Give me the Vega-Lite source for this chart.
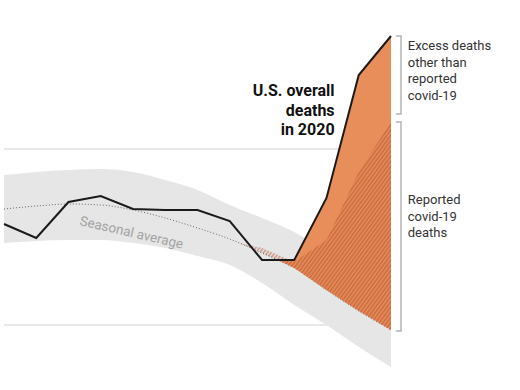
{
  "$schema": "https://vega.github.io/schema/vega-lite/v6.json",
  "width": 520,
  "height": 390,
  "autosize": {"type": "fit", "contains": "padding"},
  "padding": 0,
  "background": "white",
  "config": {"view": {"stroke": null}},
  "datasets": {
    "weeks": [
      {"w": 0, "deaths": 166, "avg": 181, "hi": 215, "lo": 147},
      {"w": 1, "deaths": 152, "avg": 184, "hi": 218, "lo": 149},
      {"w": 2, "deaths": 188, "avg": 186, "hi": 220, "lo": 150},
      {"w": 3, "deaths": 194, "avg": 185, "hi": 221, "lo": 150},
      {"w": 4, "deaths": 181, "avg": 180, "hi": 218, "lo": 147},
      {"w": 5, "deaths": 180, "avg": 172, "hi": 210, "lo": 142},
      {"w": 6, "deaths": 180, "avg": 162, "hi": 200, "lo": 134},
      {"w": 7, "deaths": 169, "avg": 151, "hi": 185, "lo": 125},
      {"w": 8, "deaths": 130, "avg": 137, "hi": 172, "lo": 107},
      {"w": 9, "deaths": 130, "avg": 122, "hi": 158, "lo": 85},
      {"w": 10, "deaths": 192, "avg": 100, "hi": 138, "lo": 65},
      {"w": 11, "deaths": 315, "avg": 79, "hi": 118, "lo": 43},
      {"w": 12, "deaths": 354, "avg": 60, "hi": 98, "lo": 23}
    ],
    "excess": [
      {"w": 8.5, "top": 130, "bottom": 130},
      {"w": 9, "top": 130, "bottom": 122},
      {"w": 10, "top": 192, "bottom": 100},
      {"w": 11, "top": 315, "bottom": 79},
      {"w": 12, "top": 354, "bottom": 60}
    ],
    "covid": [
      {"w": 7.3, "avg": 147, "top": 147},
      {"w": 8, "avg": 137, "top": 142},
      {"w": 9, "avg": 122, "top": 128},
      {"w": 10, "avg": 100, "top": 150},
      {"w": 11, "avg": 79, "top": 218},
      {"w": 12, "avg": 60, "top": 268}
    ],
    "grid": [{"v": 241}, {"v": 65}],
    "brackets": [
      {"part": "excess", "top": 354, "bottom": 276},
      {"part": "covid", "top": 268, "bottom": 59}
    ]
  },
  "layer": [
    {
      "data": {"name": "grid"},
      "mark": {"type": "rule", "color": "#d2d2d2", "strokeWidth": 1},
      "encoding": {
        "x": {"datum": 0, "type": "quantitative", "scale": {"domain": [0, 16]}, "axis": null},
        "x2": {"datum": 12},
        "y": {"field": "v", "type": "quantitative", "scale": {"domain": [0, 390]}, "axis": null}
      }
    },
    {
      "data": {"name": "weeks"},
      "mark": {"type": "area", "color": "#e6e6e6", "interpolate": "monotone"},
      "encoding": {
        "x": {"field": "w", "type": "quantitative", "scale": {"domain": [0, 16]}, "axis": null},
        "y": {"field": "hi", "type": "quantitative", "scale": {"domain": [0, 390]}, "axis": null},
        "y2": {"field": "lo"}
      }
    },
    {
      "data": {"name": "weeks"},
      "mark": {"type": "line", "color": "#666666", "strokeWidth": 1, "strokeDash": [1, 2], "interpolate": "monotone"},
      "encoding": {
        "x": {"field": "w", "type": "quantitative", "scale": {"domain": [0, 16]}, "axis": null},
        "y": {"field": "avg", "type": "quantitative", "scale": {"domain": [0, 390]}, "axis": null}
      }
    },
    {
      "data": {"name": "excess"},
      "mark": {"type": "area", "color": "#e88e5b"},
      "encoding": {
        "x": {"field": "w", "type": "quantitative", "scale": {"domain": [0, 16]}, "axis": null},
        "y": {"field": "top", "type": "quantitative", "scale": {"domain": [0, 390]}, "axis": null},
        "y2": {"field": "bottom"}
      }
    },
    {
      "data": {"name": "covid"},
      "mark": {
        "type": "area",
        "fill": {
          "gradient": "linear", "x1": 0, "y1": 0, "x2": 1, "y2": 1,
          "stops": [
            {"offset": 0, "color": "rgba(170,70,35,0)"},
            {"offset": 0.00625, "color": "rgba(170,70,35,0.5)"},
            {"offset": 0.0125, "color": "rgba(170,70,35,0)"},
            {"offset": 0.01875, "color": "rgba(170,70,35,0.5)"},
            {"offset": 0.025, "color": "rgba(170,70,35,0)"},
            {"offset": 0.03125, "color": "rgba(170,70,35,0.5)"},
            {"offset": 0.0375, "color": "rgba(170,70,35,0)"},
            {"offset": 0.04375, "color": "rgba(170,70,35,0.5)"},
            {"offset": 0.05, "color": "rgba(170,70,35,0)"},
            {"offset": 0.05625, "color": "rgba(170,70,35,0.5)"},
            {"offset": 0.0625, "color": "rgba(170,70,35,0)"},
            {"offset": 0.06875, "color": "rgba(170,70,35,0.5)"},
            {"offset": 0.075, "color": "rgba(170,70,35,0)"},
            {"offset": 0.08125, "color": "rgba(170,70,35,0.5)"},
            {"offset": 0.0875, "color": "rgba(170,70,35,0)"},
            {"offset": 0.09375, "color": "rgba(170,70,35,0.5)"},
            {"offset": 0.1, "color": "rgba(170,70,35,0)"},
            {"offset": 0.10625, "color": "rgba(170,70,35,0.5)"},
            {"offset": 0.1125, "color": "rgba(170,70,35,0)"},
            {"offset": 0.11875, "color": "rgba(170,70,35,0.5)"},
            {"offset": 0.125, "color": "rgba(170,70,35,0)"},
            {"offset": 0.13125, "color": "rgba(170,70,35,0.5)"},
            {"offset": 0.1375, "color": "rgba(170,70,35,0)"},
            {"offset": 0.14375, "color": "rgba(170,70,35,0.5)"},
            {"offset": 0.15, "color": "rgba(170,70,35,0)"},
            {"offset": 0.15625, "color": "rgba(170,70,35,0.5)"},
            {"offset": 0.1625, "color": "rgba(170,70,35,0)"},
            {"offset": 0.16875, "color": "rgba(170,70,35,0.5)"},
            {"offset": 0.175, "color": "rgba(170,70,35,0)"},
            {"offset": 0.18125, "color": "rgba(170,70,35,0.5)"},
            {"offset": 0.1875, "color": "rgba(170,70,35,0)"},
            {"offset": 0.19375, "color": "rgba(170,70,35,0.5)"},
            {"offset": 0.2, "color": "rgba(170,70,35,0)"},
            {"offset": 0.20625, "color": "rgba(170,70,35,0.5)"},
            {"offset": 0.2125, "color": "rgba(170,70,35,0)"},
            {"offset": 0.21875, "color": "rgba(170,70,35,0.5)"},
            {"offset": 0.225, "color": "rgba(170,70,35,0)"},
            {"offset": 0.23125, "color": "rgba(170,70,35,0.5)"},
            {"offset": 0.2375, "color": "rgba(170,70,35,0)"},
            {"offset": 0.24375, "color": "rgba(170,70,35,0.5)"},
            {"offset": 0.25, "color": "rgba(170,70,35,0)"},
            {"offset": 0.25625, "color": "rgba(170,70,35,0.5)"},
            {"offset": 0.2625, "color": "rgba(170,70,35,0)"},
            {"offset": 0.26875, "color": "rgba(170,70,35,0.5)"},
            {"offset": 0.275, "color": "rgba(170,70,35,0)"},
            {"offset": 0.28125, "color": "rgba(170,70,35,0.5)"},
            {"offset": 0.2875, "color": "rgba(170,70,35,0)"},
            {"offset": 0.29375, "color": "rgba(170,70,35,0.5)"},
            {"offset": 0.3, "color": "rgba(170,70,35,0)"},
            {"offset": 0.30625, "color": "rgba(170,70,35,0.5)"},
            {"offset": 0.3125, "color": "rgba(170,70,35,0)"},
            {"offset": 0.31875, "color": "rgba(170,70,35,0.5)"},
            {"offset": 0.325, "color": "rgba(170,70,35,0)"},
            {"offset": 0.33125, "color": "rgba(170,70,35,0.5)"},
            {"offset": 0.3375, "color": "rgba(170,70,35,0)"},
            {"offset": 0.34375, "color": "rgba(170,70,35,0.5)"},
            {"offset": 0.35, "color": "rgba(170,70,35,0)"},
            {"offset": 0.35625, "color": "rgba(170,70,35,0.5)"},
            {"offset": 0.3625, "color": "rgba(170,70,35,0)"},
            {"offset": 0.36875, "color": "rgba(170,70,35,0.5)"},
            {"offset": 0.375, "color": "rgba(170,70,35,0)"},
            {"offset": 0.38125, "color": "rgba(170,70,35,0.5)"},
            {"offset": 0.3875, "color": "rgba(170,70,35,0)"},
            {"offset": 0.39375, "color": "rgba(170,70,35,0.5)"},
            {"offset": 0.4, "color": "rgba(170,70,35,0)"},
            {"offset": 0.40625, "color": "rgba(170,70,35,0.5)"},
            {"offset": 0.4125, "color": "rgba(170,70,35,0)"},
            {"offset": 0.41875, "color": "rgba(170,70,35,0.5)"},
            {"offset": 0.425, "color": "rgba(170,70,35,0)"},
            {"offset": 0.43125, "color": "rgba(170,70,35,0.5)"},
            {"offset": 0.4375, "color": "rgba(170,70,35,0)"},
            {"offset": 0.44375, "color": "rgba(170,70,35,0.5)"},
            {"offset": 0.45, "color": "rgba(170,70,35,0)"},
            {"offset": 0.45625, "color": "rgba(170,70,35,0.5)"},
            {"offset": 0.4625, "color": "rgba(170,70,35,0)"},
            {"offset": 0.46875, "color": "rgba(170,70,35,0.5)"},
            {"offset": 0.475, "color": "rgba(170,70,35,0)"},
            {"offset": 0.48125, "color": "rgba(170,70,35,0.5)"},
            {"offset": 0.4875, "color": "rgba(170,70,35,0)"},
            {"offset": 0.49375, "color": "rgba(170,70,35,0.5)"},
            {"offset": 0.5, "color": "rgba(170,70,35,0)"},
            {"offset": 0.50625, "color": "rgba(170,70,35,0.5)"},
            {"offset": 0.5125, "color": "rgba(170,70,35,0)"},
            {"offset": 0.51875, "color": "rgba(170,70,35,0.5)"},
            {"offset": 0.525, "color": "rgba(170,70,35,0)"},
            {"offset": 0.53125, "color": "rgba(170,70,35,0.5)"},
            {"offset": 0.5375, "color": "rgba(170,70,35,0)"},
            {"offset": 0.54375, "color": "rgba(170,70,35,0.5)"},
            {"offset": 0.55, "color": "rgba(170,70,35,0)"},
            {"offset": 0.55625, "color": "rgba(170,70,35,0.5)"},
            {"offset": 0.5625, "color": "rgba(170,70,35,0)"},
            {"offset": 0.56875, "color": "rgba(170,70,35,0.5)"},
            {"offset": 0.575, "color": "rgba(170,70,35,0)"},
            {"offset": 0.58125, "color": "rgba(170,70,35,0.5)"},
            {"offset": 0.5875, "color": "rgba(170,70,35,0)"},
            {"offset": 0.59375, "color": "rgba(170,70,35,0.5)"},
            {"offset": 0.6, "color": "rgba(170,70,35,0)"},
            {"offset": 0.60625, "color": "rgba(170,70,35,0.5)"},
            {"offset": 0.6125, "color": "rgba(170,70,35,0)"},
            {"offset": 0.61875, "color": "rgba(170,70,35,0.5)"},
            {"offset": 0.625, "color": "rgba(170,70,35,0)"},
            {"offset": 0.63125, "color": "rgba(170,70,35,0.5)"},
            {"offset": 0.6375, "color": "rgba(170,70,35,0)"},
            {"offset": 0.64375, "color": "rgba(170,70,35,0.5)"},
            {"offset": 0.65, "color": "rgba(170,70,35,0)"},
            {"offset": 0.65625, "color": "rgba(170,70,35,0.5)"},
            {"offset": 0.6625, "color": "rgba(170,70,35,0)"},
            {"offset": 0.66875, "color": "rgba(170,70,35,0.5)"},
            {"offset": 0.675, "color": "rgba(170,70,35,0)"},
            {"offset": 0.68125, "color": "rgba(170,70,35,0.5)"},
            {"offset": 0.6875, "color": "rgba(170,70,35,0)"},
            {"offset": 0.69375, "color": "rgba(170,70,35,0.5)"},
            {"offset": 0.7, "color": "rgba(170,70,35,0)"},
            {"offset": 0.70625, "color": "rgba(170,70,35,0.5)"},
            {"offset": 0.7125, "color": "rgba(170,70,35,0)"},
            {"offset": 0.71875, "color": "rgba(170,70,35,0.5)"},
            {"offset": 0.725, "color": "rgba(170,70,35,0)"},
            {"offset": 0.73125, "color": "rgba(170,70,35,0.5)"},
            {"offset": 0.7375, "color": "rgba(170,70,35,0)"},
            {"offset": 0.74375, "color": "rgba(170,70,35,0.5)"},
            {"offset": 0.75, "color": "rgba(170,70,35,0)"},
            {"offset": 0.75625, "color": "rgba(170,70,35,0.5)"},
            {"offset": 0.7625, "color": "rgba(170,70,35,0)"},
            {"offset": 0.76875, "color": "rgba(170,70,35,0.5)"},
            {"offset": 0.775, "color": "rgba(170,70,35,0)"},
            {"offset": 0.78125, "color": "rgba(170,70,35,0.5)"},
            {"offset": 0.7875, "color": "rgba(170,70,35,0)"},
            {"offset": 0.79375, "color": "rgba(170,70,35,0.5)"},
            {"offset": 0.8, "color": "rgba(170,70,35,0)"},
            {"offset": 0.80625, "color": "rgba(170,70,35,0.5)"},
            {"offset": 0.8125, "color": "rgba(170,70,35,0)"},
            {"offset": 0.81875, "color": "rgba(170,70,35,0.5)"},
            {"offset": 0.825, "color": "rgba(170,70,35,0)"},
            {"offset": 0.83125, "color": "rgba(170,70,35,0.5)"},
            {"offset": 0.8375, "color": "rgba(170,70,35,0)"},
            {"offset": 0.84375, "color": "rgba(170,70,35,0.5)"},
            {"offset": 0.85, "color": "rgba(170,70,35,0)"},
            {"offset": 0.85625, "color": "rgba(170,70,35,0.5)"},
            {"offset": 0.8625, "color": "rgba(170,70,35,0)"},
            {"offset": 0.86875, "color": "rgba(170,70,35,0.5)"},
            {"offset": 0.875, "color": "rgba(170,70,35,0)"},
            {"offset": 0.88125, "color": "rgba(170,70,35,0.5)"},
            {"offset": 0.8875, "color": "rgba(170,70,35,0)"},
            {"offset": 0.89375, "color": "rgba(170,70,35,0.5)"},
            {"offset": 0.9, "color": "rgba(170,70,35,0)"},
            {"offset": 0.90625, "color": "rgba(170,70,35,0.5)"},
            {"offset": 0.9125, "color": "rgba(170,70,35,0)"},
            {"offset": 0.91875, "color": "rgba(170,70,35,0.5)"},
            {"offset": 0.925, "color": "rgba(170,70,35,0)"},
            {"offset": 0.93125, "color": "rgba(170,70,35,0.5)"},
            {"offset": 0.9375, "color": "rgba(170,70,35,0)"},
            {"offset": 0.94375, "color": "rgba(170,70,35,0.5)"},
            {"offset": 0.95, "color": "rgba(170,70,35,0)"},
            {"offset": 0.95625, "color": "rgba(170,70,35,0.5)"},
            {"offset": 0.9625, "color": "rgba(170,70,35,0)"},
            {"offset": 0.96875, "color": "rgba(170,70,35,0.5)"},
            {"offset": 0.975, "color": "rgba(170,70,35,0)"},
            {"offset": 0.98125, "color": "rgba(170,70,35,0.5)"},
            {"offset": 0.9875, "color": "rgba(170,70,35,0)"},
            {"offset": 0.99375, "color": "rgba(170,70,35,0.5)"},
            {"offset": 1, "color": "rgba(170,70,35,0)"}
          ]
        }
      },
      "encoding": {
        "x": {"field": "w", "type": "quantitative", "scale": {"domain": [0, 16]}, "axis": null},
        "y": {"field": "top", "type": "quantitative", "scale": {"domain": [0, 390]}, "axis": null},
        "y2": {"field": "avg"}
      }
    },
    {
      "data": {"name": "weeks"},
      "mark": {"type": "line", "color": "#1a1a1a", "strokeWidth": 2},
      "encoding": {
        "x": {"field": "w", "type": "quantitative", "scale": {"domain": [0, 16]}, "axis": null},
        "y": {"field": "deaths", "type": "quantitative", "scale": {"domain": [0, 390]}, "axis": null}
      }
    },
    {
      "data": {"name": "brackets"},
      "mark": {"type": "rule", "color": "#b4b4b4", "strokeWidth": 1.5},
      "encoding": {
        "x": {"datum": 12.31, "type": "quantitative", "scale": {"domain": [0, 16]}, "axis": null},
        "y": {"field": "top", "type": "quantitative", "scale": {"domain": [0, 390]}, "axis": null},
        "y2": {"field": "bottom"}
      }
    },
    {
      "data": {"name": "brackets"},
      "mark": {"type": "rule", "color": "#b4b4b4", "strokeWidth": 1.5},
      "encoding": {
        "x": {"datum": 12.15, "type": "quantitative", "scale": {"domain": [0, 16]}, "axis": null},
        "x2": {"datum": 12.33},
        "y": {"field": "top", "type": "quantitative", "scale": {"domain": [0, 390]}, "axis": null}
      }
    },
    {
      "data": {"name": "brackets"},
      "mark": {"type": "rule", "color": "#b4b4b4", "strokeWidth": 1.5},
      "encoding": {
        "x": {"datum": 12.15, "type": "quantitative", "scale": {"domain": [0, 16]}, "axis": null},
        "x2": {"datum": 12.33},
        "y": {"field": "bottom", "type": "quantitative", "scale": {"domain": [0, 390]}, "axis": null}
      }
    },
    {
      "data": {"values": [
        {"w": 12.52, "v": 350, "t": "Excess deaths\nother than\nreported\ncovid-19"},
        {"w": 12.52, "v": 196, "t": "Reported\ncovid-19\ndeaths"}
      ]},
      "mark": {"type": "text", "align": "left", "baseline": "top", "font": "Roboto", "fontSize": 13, "lineHeight": 16.5, "lineBreak": "\n", "color": "#333333"},
      "encoding": {
        "x": {"field": "w", "type": "quantitative", "scale": {"domain": [0, 16]}, "axis": null},
        "y": {"field": "v", "type": "quantitative", "scale": {"domain": [0, 390]}, "axis": null},
        "text": {"field": "t"}
      }
    },
    {
      "data": {"values": [
        {"w": 10.25, "v": 307, "t": "U.S. overall\ndeaths\nin 2020"}
      ]},
      "mark": {"type": "text", "align": "right", "baseline": "top", "font": "Roboto", "fontSize": 16, "fontWeight": "bold", "lineHeight": 19.5, "lineBreak": "\n", "color": "#111111"},
      "encoding": {
        "x": {"field": "w", "type": "quantitative", "scale": {"domain": [0, 16]}, "axis": null},
        "y": {"field": "v", "type": "quantitative", "scale": {"domain": [0, 390]}, "axis": null},
        "text": {"field": "t"}
      }
    },
    {
      "data": {"values": [
        {"w": 3.95, "v": 157, "t": "Seasonal average"}
      ]},
      "mark": {"type": "text", "align": "center", "baseline": "middle", "font": "Roboto", "fontSize": 13.5, "angle": 13, "color": "#a3a3a3"},
      "encoding": {
        "x": {"field": "w", "type": "quantitative", "scale": {"domain": [0, 16]}, "axis": null},
        "y": {"field": "v", "type": "quantitative", "scale": {"domain": [0, 390]}, "axis": null},
        "text": {"field": "t"}
      }
    }
  ]
}
